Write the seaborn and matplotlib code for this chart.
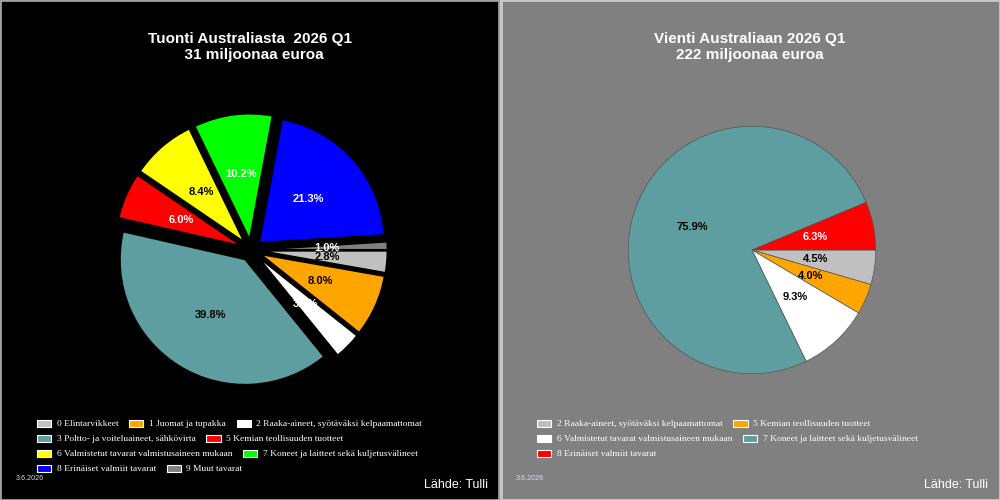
import matplotlib
matplotlib.use("Agg")
import matplotlib.pyplot as plt
import seaborn as sns
from matplotlib.patches import Patch

# Data
tuonti_title = "Tuonti Australiasta  2026 Q1\n  31 miljoonaa euroa"
tuonti_cats = ["0 Elintarvikkeet", "1 Juomat ja tupakka",
               "2 Raaka-aineet, syötäväksi kelpaamattomat",
               "3 Poltto- ja voiteluaineet, sähkövirta",
               "5 Kemian teollisuuden tuotteet",
               "6 Valmistetut tavarat valmistusaineen mukaan",
               "7 Koneet ja laitteet sekä kuljetusvälineet",
               "8 Erinäiset valmiit tavarat", "9 Muut tavarat"]
tuonti_vals = [2.8, 8.0, 3.5, 39.8, 6.0, 8.4, 10.2, 21.3, 1.0]

vienti_title = "Vienti Australiaan 2026 Q1\n222 miljoonaa euroa"
vienti_cats = ["2 Raaka-aineet, syötäväksi kelpaamattomat",
               "5 Kemian teollisuuden tuotteet",
               "6 Valmistetut tavarat valmistusaineen mukaan",
               "7 Koneet ja laitteet sekä kuljetusvälineet",
               "8 Erinäiset valmiit tavarat"]
vienti_vals = [4.5, 4.0, 9.3, 75.9, 6.3]

date_text = "3.6.2026"
source_text = "Lähde: Tulli"

# styles
tuonti_colors = ["#C0C0C0", "#FFA500", "#FFFFFF", "#5F9EA0", "#FF0000",
                 "#FFFF00", "#00FF00", "#0000FF", "#808080"]
tuonti_txt = ["black", "black", "white", "black", "white",
              "black", "white", "white", "white"]
vienti_colors = ["#C0C0C0", "#FFA500", "#FFFFFF", "#5F9EA0", "#FF0000"]
vienti_txt = ["black", "black", "black", "black", "white"]

sns.set_theme(style="white")
plt.rcParams["font.family"] = ["Liberation Sans", "DejaVu Sans"]

fig = plt.figure(figsize=(10, 5), dpi=100, facecolor="#D0D0D0")


def panel(x0, face, edge):
    ax = fig.add_axes([x0, 0, 0.4985, 1])
    ax.set_facecolor(face)
    ax.set_xticks([])
    ax.set_yticks([])
    for s in ax.spines.values():
        s.set_color(edge)
        s.set_linewidth(2)
    return ax


def draw_pie(cx, cy, vals, colors, txtcolors, explode, radius, edge, lw):
    ax = fig.add_axes([(cx - 150) / 1000, (500 - cy - 150) / 500, 0.3, 0.6])
    wedges, texts, autotexts = ax.pie(
        vals, colors=colors, explode=[explode] * len(vals), radius=radius,
        startangle=0, counterclock=False, autopct="%1.1f%%", pctdistance=0.52,
        wedgeprops=dict(edgecolor=edge, linewidth=lw),
        textprops=dict(fontsize=8, fontweight="bold"))
    # show the rounded values as printed in the source
    for t, v, c in zip(autotexts, vals, txtcolors):
        t.set_text(f"{v:.1f}%")
        t.set_color(c)
    ax.set_xlim(-1.2, 1.2)
    ax.set_ylim(-1.2, 1.2)
    ax.set_aspect("equal")
    ax.axis("off")


def legend_rows(x, ys, rows, cats, colors):
    for y, row in zip(ys, rows):
        handles = [Patch(facecolor=colors[i], edgecolor="white", linewidth=0.8) for i in row]
        fig.legend(handles, [cats[i] for i in row], loc="center left",
                   bbox_to_anchor=(x / 1000, 1 - y / 500), ncol=len(row),
                   frameon=False, borderpad=0, borderaxespad=0,
                   handlelength=1.5, handleheight=0.75, handletextpad=0.57,
                   columnspacing=1.18, labelcolor="white",
                   prop={"family": "Liberation Serif", "size": 6.8})


panel(0, "black", "#A0A0A0")
panel(0.5015, "#808080", "#C8C8C8")

# left: imports
fig.text(0.25, 1 - 47 / 500, tuonti_title, color="white", fontsize=11,
         fontweight="bold", ha="center", va="center", linespacing=1.2)
draw_pie(251, 250, tuonti_vals, tuonti_colors, tuonti_txt, 0.09, 1.0, "black", 1.0)
legend_rows(37, [424, 439, 454, 469], [[0, 1, 2], [3, 4], [5, 6], [7, 8]],
            tuonti_cats, tuonti_colors)
fig.text(0.016, 1 - 478 / 500, date_text, color="#D8DCE8", fontsize=5.2, va="center")
fig.text(0.488, 1 - 485 / 500, source_text, color="white", fontsize=9,
         ha="right", va="center")

# right: exports
fig.text(0.75, 1 - 47 / 500, vienti_title, color="white", fontsize=11,
         fontweight="bold", ha="center", va="center", linespacing=1.2)
draw_pie(752, 250, vienti_vals, vienti_colors, vienti_txt, 0.0, 0.99, "#555555", 0.5)
legend_rows(537, [424, 439, 454], [[0, 1], [2, 3], [4]],
            vienti_cats, vienti_colors)
fig.text(0.516, 1 - 478 / 500, date_text, color="#D8DCE8", fontsize=5.2, va="center")
fig.text(0.988, 1 - 485 / 500, source_text, color="white", fontsize=9,
         ha="right", va="center")

fig.savefig("out.png", dpi=100, facecolor=fig.get_facecolor())
